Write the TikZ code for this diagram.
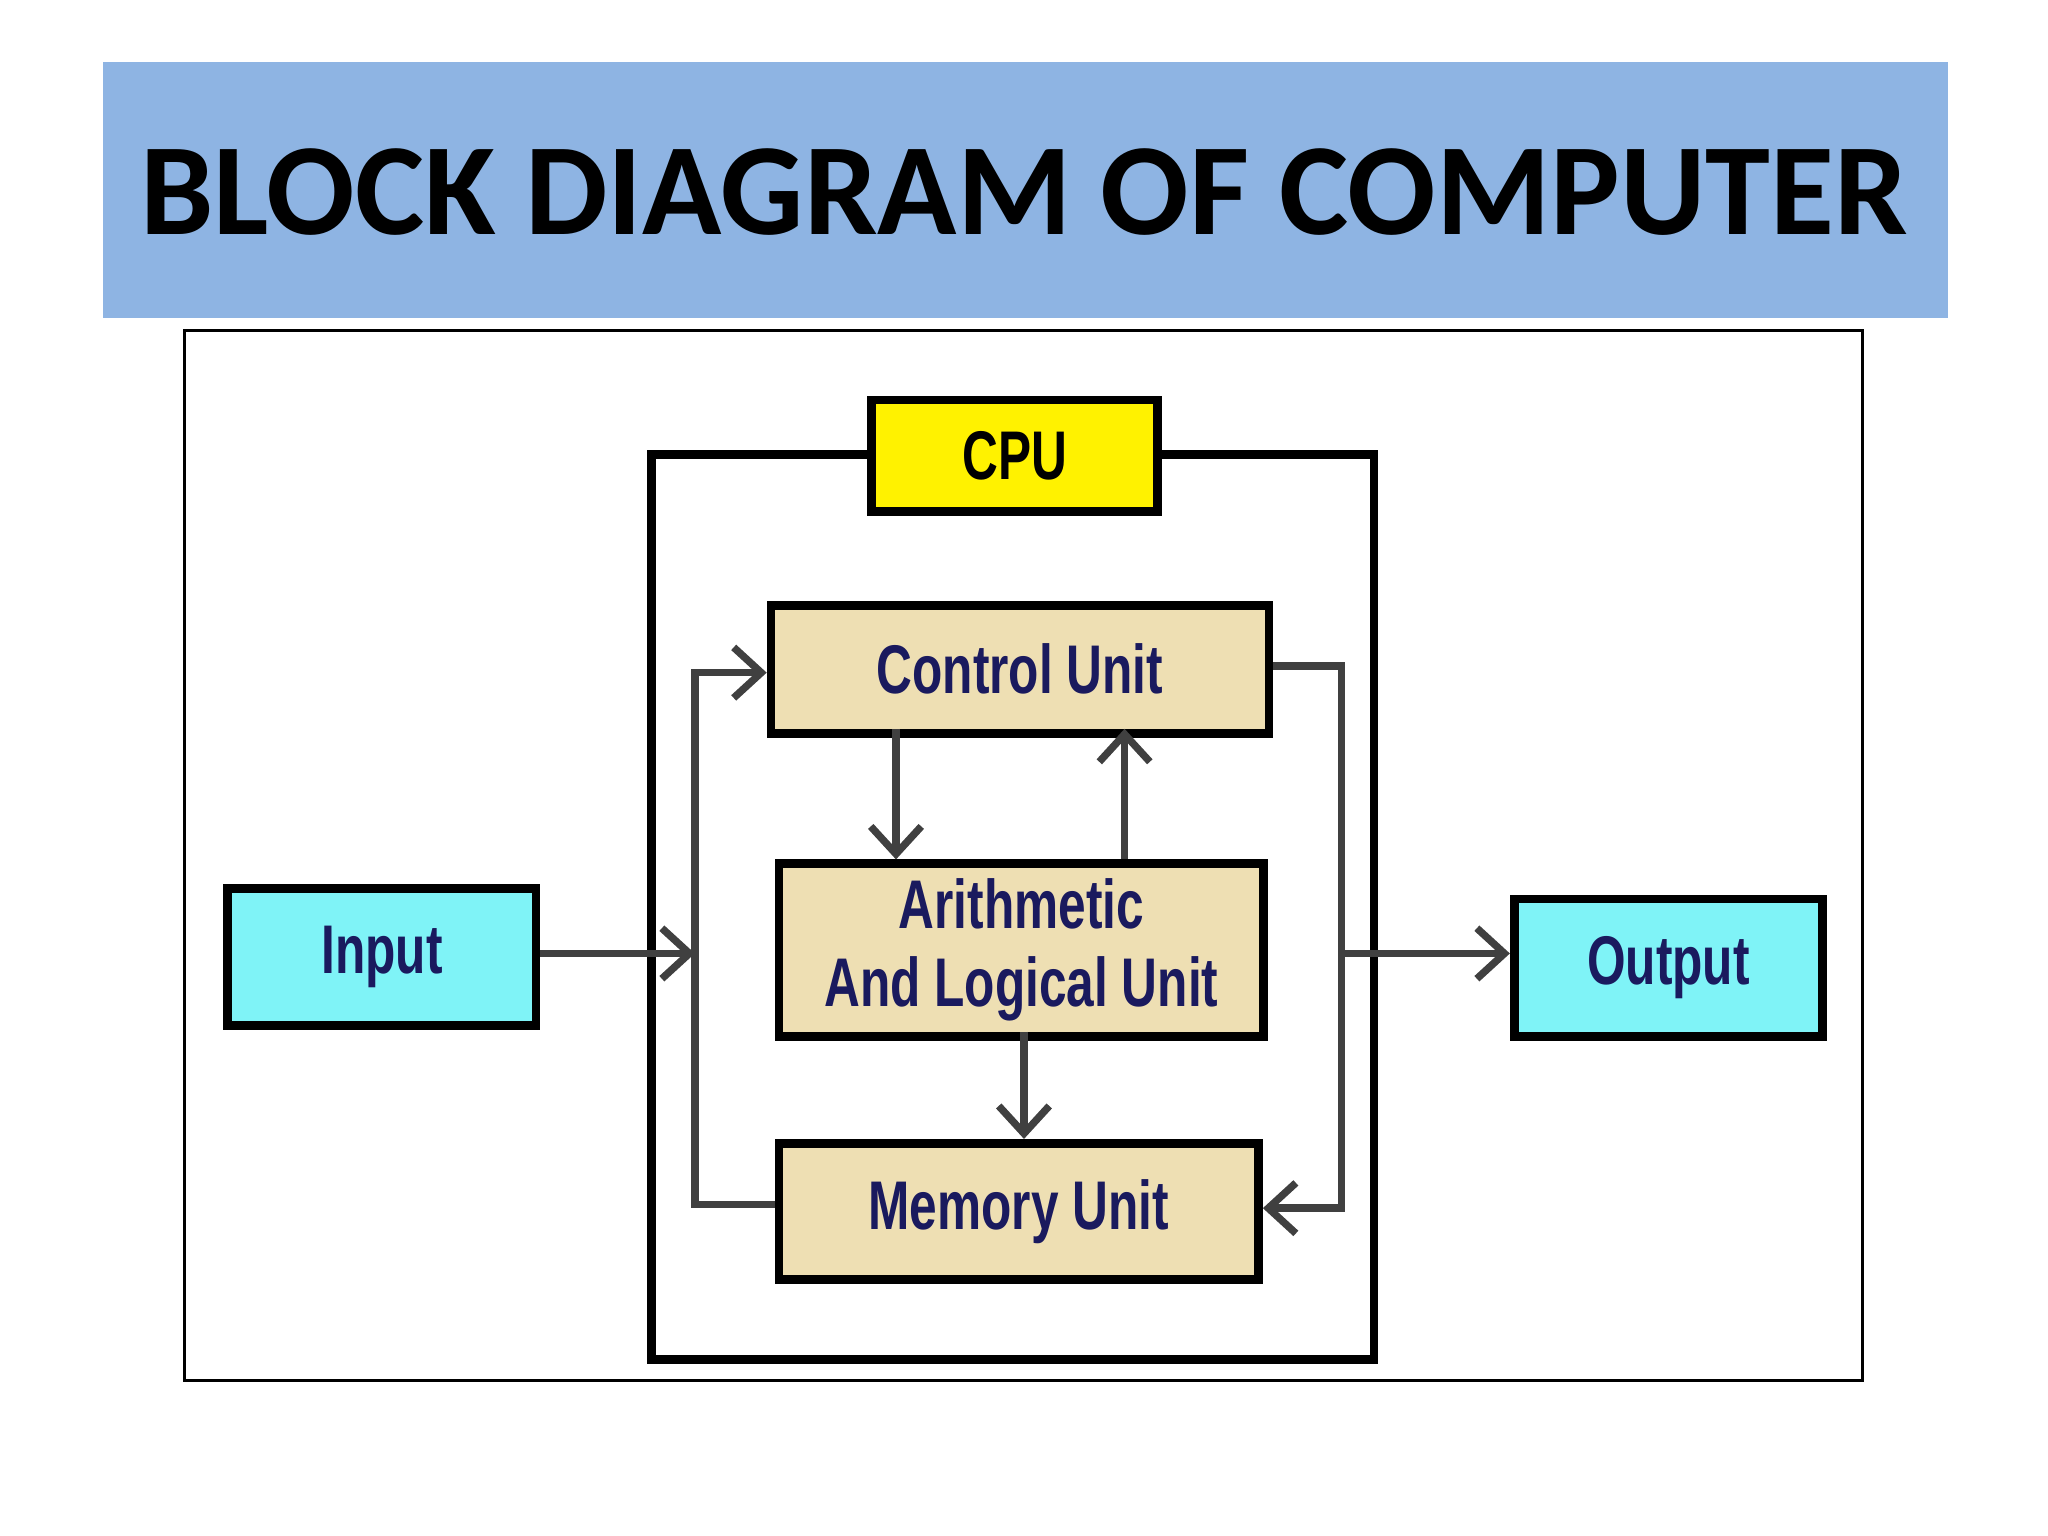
\documentclass[tikz,border=0pt]{standalone}
\usepackage{fontspec}
\setmainfont{Liberation Sans}
\newfontfamily\titlef{Carlito}
\newfontfamily\condf{Liberation Sans}[FakeStretch=0.72]
\usetikzlibrary{arrows.meta}
\definecolor{banner}{HTML}{8EB4E3}
\definecolor{tan}{HTML}{EEDFB3}
\definecolor{cyanb}{HTML}{7FF3F7}
\definecolor{navy}{HTML}{1A1A5E}
\definecolor{arr}{HTML}{404040}
\begin{document}
\begin{tikzpicture}[x=0.01cm,y=-0.01cm,
  blk/.style={draw=black,line width=1.9pt,inner sep=0pt},
  lbl/.style={text=navy,font=\condf\bfseries\fontsize{15}{18}\selectfont,align=center},
  con/.style={draw=arr,line width=1.6pt},
  ar/.style={con,-{Straight Barb[length=6pt,width=11pt,line width=1.6pt]}}]
\useasboundingbox (0,0) rectangle (1568,1176);
\fill[white] (0,0) rectangle (1568,1176);
\node[fill=banner,minimum width=14.12cm,minimum height=1.96cm,inner sep=0pt,anchor=north west] (ban) at (78,47) {};
\node[font=\titlef\bfseries\fontsize{28.5}{32}\selectfont] (title) at (784,147) {BLOCK DIAGRAM OF COMPUTER};
\draw[line width=0.6pt] (141,253) rectangle (1426,1057);
\draw[line width=1.9pt] (499,348) rectangle (1052,1041);
\node[blk,fill=yellow,minimum width=2.19cm,minimum height=0.85cm,anchor=north west] (cpu) at (664,303) {};
\node[lbl,text=black] at (cpu) {CPU};
\node[blk,fill=tan,minimum width=3.81cm,minimum height=0.98cm,anchor=north west] (cu) at (587,460) {};
\node[lbl] at (cu) {Control Unit};
\node[blk,fill=tan,minimum width=3.71cm,minimum height=1.32cm,anchor=north west] (alu) at (593,658) {};
\node[lbl] at (alu) {Arithmetic\\[-1pt]And Logical Unit};
\node[blk,fill=tan,minimum width=3.67cm,minimum height=1.04cm,anchor=north west] (mem) at (593,872) {};
\node[lbl] at (mem) {Memory Unit};
\node[blk,fill=cyanb,minimum width=2.36cm,minimum height=1.05cm,anchor=north west] (in) at (171,677) {};
\node[lbl] at (in) {Input};
\node[blk,fill=cyanb,minimum width=2.36cm,minimum height=1.05cm,anchor=north west] (out) at (1156,685) {};
\node[lbl] at (out) {Output};
\coordinate (jl) at (532,730);
\coordinate (jr) at (1027,730);
\draw[ar] (in.east |- jl) -- (jl);
\draw[ar] (mem.west |- 0,922) -- (532,922) -- (532,515) -- (cu.west |- 0,515);
\draw[ar] (cu.east |- 0,510) -- (1027,510) -- (1027,925) -- (mem.east |- 0,925);
\draw[ar] (jr) -- (out.west |- jr);
\draw[ar] (686,558) -- (686,658);
\draw[ar] (861,658) -- (861,558);
\draw[ar] (784,790) -- (784,872);
\end{tikzpicture}
\end{document}
